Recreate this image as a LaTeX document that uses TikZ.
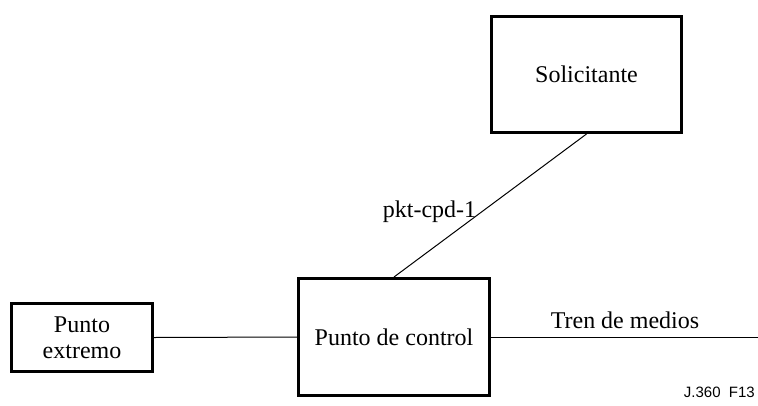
\documentclass[tikz,border=0pt]{standalone}
\usepackage{fontspec}
\setmainfont{Liberation Serif}
\newfontfamily\labelsans{Liberation Sans}
\begin{document}
\begin{tikzpicture}[x=1pt,y=-1pt,
  block/.style={draw=black, line width=3pt, fill=white, inner sep=0pt,
    font=\fontsize{24}{26}\selectfont, align=center},
  link/.style={draw=black, line width=1pt},
  tag/.style={font=\fontsize{24}{26}\selectfont, inner sep=0pt, anchor=base}]
  \useasboundingbox (0,0) rectangle (758,405);
  % entity boxes
  \node[block, minimum width=190pt, minimum height=116pt] (sol) at (586.5,74.5) {Solicitante};
  \node[block, minimum width=191pt, minimum height=117pt] (pdc) at (394,337) {Punto de control};
  \node[block, minimum width=141pt, minimum height=68pt] (pe) at (82,337.5) {Punto\\extremo};
  \coordinate (tren) at (758,337);
  % connections
  \draw[link] (pdc.north) -- (sol.south);
  \draw[link] (pe.east) -- (pdc.west);
  \draw[link] (pdc.east) -- (tren);
  % labels
  \node[tag] (lpkt) at (429.5,217) {pkt-cpd-1};
  \node[tag] (ltren) at (625,328) {Tren de medios};
  \node[font=\labelsans\fontsize{15}{17}\selectfont, inner sep=0pt, anchor=base east] (fig) at (755,397) {J.360\ \ F13};
\end{tikzpicture}
\end{document}
